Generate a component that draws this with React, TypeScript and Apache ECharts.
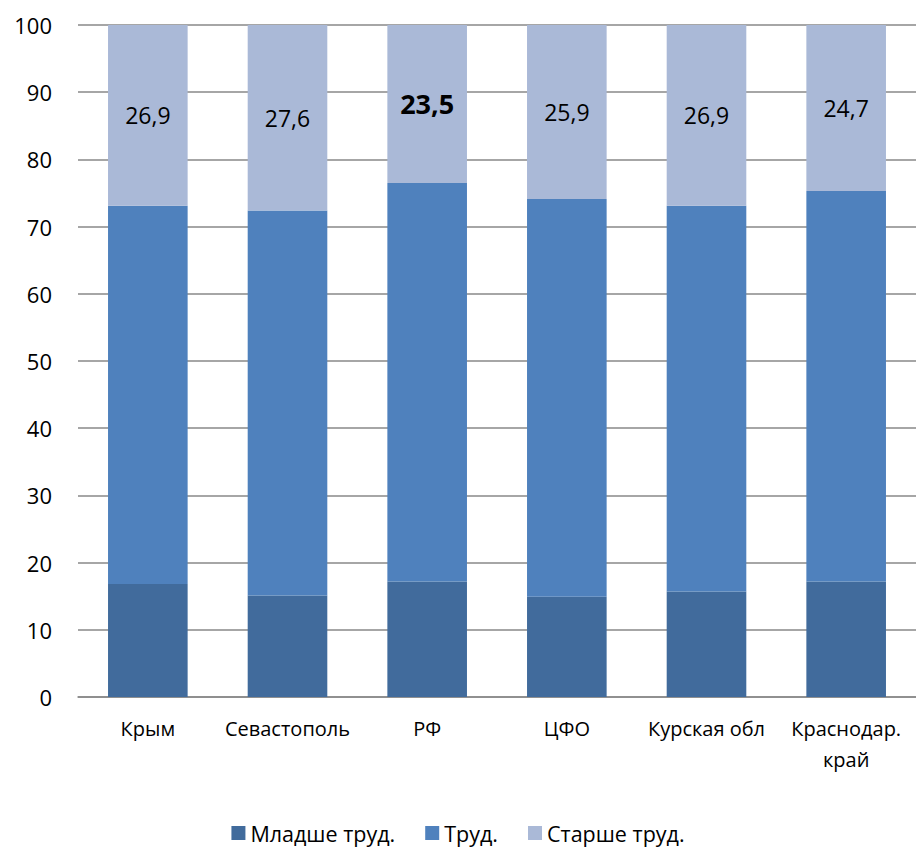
import React, { useEffect, useRef } from "react";
import * as echarts from "echarts";

const categories = ["Крым", "Севастополь", "РФ", "ЦФО", "Курская обл", "Краснодар.\nкрай"];
const seriesNames = ["Младше труд.", "Труд.", "Старше труд."];
const younger = [16.8, 15.1, 17.2, 14.9, 15.7, 17.2];
const working = [56.3, 57.3, 59.3, 59.2, 57.4, 58.1];
const older = [26.9, 27.6, 23.5, 25.9, 26.9, 24.7];
const olderLabels = ["26,9", "27,6", "23,5", "25,9", "26,9", "24,7"];
const boldIndex = 2;

const FONT = "'Open Sans', 'Noto Sans', sans-serif";

export default function App() {
  const ref = useRef<HTMLDivElement>(null);
  useEffect(() => {
    if (!ref.current) return;
    const chart = echarts.init(ref.current, undefined, { renderer: "svg" });
    chart.setOption({
      animation: false,
      backgroundColor: "#ffffff",
      grid: { left: 78, right: 0, top: 25, bottom: 154 },
      legend: {
        bottom: 2,
        left: "center",
        itemWidth: 14,
        itemHeight: 14,
        itemGap: 30,
        icon: "rect",
        textStyle: { fontFamily: FONT, fontSize: 21.5, color: "#000" },
        data: seriesNames,
      },
      xAxis: {
        type: "category",
        data: categories,
        axisLine: { lineStyle: { color: "#888", width: 1.5 } },
        axisTick: { show: false },
        axisLabel: {
          fontFamily: FONT,
          fontSize: 20,
          color: "#000",
          margin: 16,
          lineHeight: 31,
          interval: 0,
        },
      },
      yAxis: {
        type: "value",
        min: 0,
        max: 100,
        interval: 10,
        axisLine: { show: false },
        axisTick: { show: false },
        splitLine: { lineStyle: { color: "#888", width: 1.5 } },
        axisLabel: { fontFamily: FONT, fontSize: 22, color: "#000", margin: 26 },
      },
      series: [
        {
          name: seriesNames[0],
          type: "bar",
          stack: "total",
          barWidth: "57%",
          data: younger,
          itemStyle: { color: "#416B9C" },
        },
        {
          name: seriesNames[1],
          type: "bar",
          stack: "total",
          barWidth: "57%",
          data: working,
          itemStyle: { color: "#4F81BD" },
        },
        {
          name: seriesNames[2],
          type: "bar",
          stack: "total",
          barWidth: "57%",
          data: older.map((v, i) => ({
            value: v,
            label: {
              show: true,
              position: "inside",
              formatter: olderLabels[i],
              fontFamily: FONT,
              fontSize: i === boldIndex ? 27 : 23,
              fontWeight: i === boldIndex ? "bold" : "normal",
              color: "#000",
            },
          })),
          itemStyle: { color: "#AAB9D7" },
        },
      ],
    });
    return () => chart.dispose();
  }, []);
  return (
    <div
      ref={ref}
      style={{ position: "fixed", left: 0, top: 0, width: 916, height: 851 }}
    />
  );
}
